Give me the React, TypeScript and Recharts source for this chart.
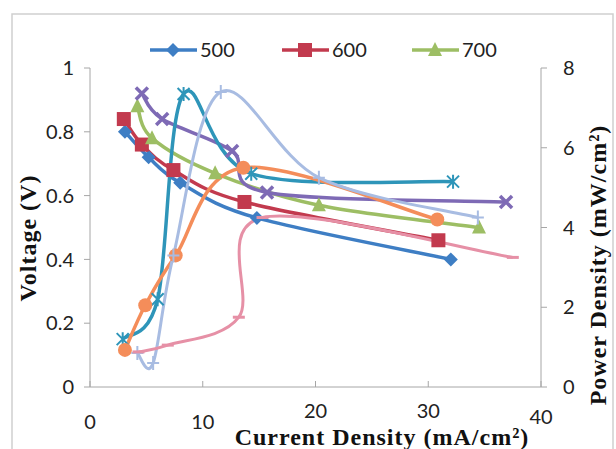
import { LineChart, Line, XAxis, YAxis } from "recharts";

// voltage curves (left axis)
const CURRENT_500 = [3.1, 5.2, 8.0, 14.8, 32.0];
const VOLTAGE_500 = [0.8, 0.72, 0.64, 0.53, 0.4];
const CURRENT_600 = [3.0, 4.6, 7.4, 13.7, 30.9];
const VOLTAGE_600 = [0.84, 0.76, 0.68, 0.58, 0.46];
const CURRENT_700 = [4.2, 5.5, 11.1, 20.3, 34.5];
const VOLTAGE_700 = [0.88, 0.78, 0.67, 0.57, 0.5];
const CURRENT_800 = [4.6, 6.4, 12.6, 15.7, 36.9];
const VOLTAGE_800 = [0.92, 0.84, 0.74, 0.61, 0.58];

// power density curves (right axis)
const CURRENT_P500 = [2.9, 6.0, 8.3, 14.3, 32.2];
const POWER_500 = [1.2, 2.2, 7.35, 5.35, 5.15];
const CURRENT_P600 = [3.1, 4.9, 7.6, 13.6, 30.8];
const POWER_600 = [0.93, 2.05, 3.3, 5.5, 4.2];
const CURRENT_P700 = [4.2, 5.6, 7.4, 11.6, 20.3, 34.4];
const POWER_700 = [0.85, 0.6, 3.3, 7.4, 5.25, 4.25];
const CURRENT_P800 = [4.3, 6.9, 13.2, 15.3, 37.5];
const POWER_800 = [0.88, 1.05, 1.75, 4.25, 3.25];

const X_TICKS = [0, 10, 20, 30, 40];
const V_TICKS = [0, 0.2, 0.4, 0.6, 0.8, 1];
const P_TICKS = [0, 2, 4, 6, 8];

const LEGEND = [
  { name: "500", color: "#3E7EC4", shape: "diamond", x: 150 },
  { name: "600", color: "#C23A4E", shape: "square", x: 282 },
  { name: "700", color: "#9DBE64", shape: "triangle", x: 412 },
];

const toPoints = (xs: number[], ys: number[]) => xs.map((x, i) => ({ x, y: ys[i] }));

// Excel-like smoothing: cubic bezier through every point (catmull-rom style)
function excelSmooth(context: any) {
  let pts: number[][] = [];
  return {
    areaStart() {},
    areaEnd() {},
    lineStart() {
      pts = [];
    },
    lineEnd() {
      const n = pts.length;
      if (!n) return;
      context.moveTo(pts[0][0], pts[0][1]);
      for (let i = 0; i < n - 1; i++) {
        const p0 = pts[Math.max(i - 1, 0)];
        const p1 = pts[i];
        const p2 = pts[i + 1];
        const p3 = pts[Math.min(i + 2, n - 1)];
        context.bezierCurveTo(
          p1[0] + (p2[0] - p0[0]) / 6,
          p1[1] + (p2[1] - p0[1]) / 6,
          p2[0] - (p3[0] - p1[0]) / 6,
          p2[1] - (p3[1] - p1[1]) / 6,
          p2[0],
          p2[1]
        );
      }
    },
    point(x: number, y: number) {
      pts.push([+x, +y]);
    },
  };
}

function Marker({ shape, cx, cy, color }: { shape: string; cx: number; cy: number; color: string }) {
  switch (shape) {
    case "diamond":
      return <polygon points={`${cx},${cy - 7} ${cx + 7},${cy} ${cx},${cy + 7} ${cx - 7},${cy}`} fill={color} />;
    case "square":
      return <rect x={cx - 7} y={cy - 7} width={14} height={14} fill={color} />;
    case "triangle":
      return <polygon points={`${cx},${cy - 8} ${cx + 7},${cy + 6} ${cx - 7},${cy + 6}`} fill={color} />;
    case "x":
      return (
        <path d={`M${cx - 6},${cy - 6}L${cx + 6},${cy + 6}M${cx + 6},${cy - 6}L${cx - 6},${cy + 6}`} stroke={color} strokeWidth={3.5} />
      );
    case "star":
      return (
        <path
          d={`M${cx - 6},${cy - 6}L${cx + 6},${cy + 6}M${cx + 6},${cy - 6}L${cx - 6},${cy + 6}M${cx},${cy - 7}L${cx},${cy + 7}`}
          stroke={color}
          strokeWidth={2}
        />
      );
    case "circle":
      return <circle cx={cx} cy={cy} r={7} fill={color} />;
    case "plus":
      return <path d={`M${cx - 6},${cy}L${cx + 6},${cy}M${cx},${cy - 7}L${cx},${cy + 7}`} stroke={color} strokeWidth={2} />;
    case "dash":
      return <path d={`M${cx - 6},${cy}L${cx + 6},${cy}`} stroke={color} strokeWidth={3} />;
    default:
      return null;
  }
}

const dotFor = (shape: string, color: string) => (props: any) => {
  const { cx, cy, index } = props;
  if (cx == null || cy == null) return <g key={`e-${index}`} />;
  return (
    <g key={`m-${index}`}>
      <Marker shape={shape} cx={cx} cy={cy} color={color} />
    </g>
  );
};

const SERIES = [
  { name: "500", axis: "v", data: toPoints(CURRENT_500, VOLTAGE_500), color: "#3E7EC4", shape: "diamond", w: 3.5 },
  { name: "600", axis: "v", data: toPoints(CURRENT_600, VOLTAGE_600), color: "#C23A4E", shape: "square", w: 3.5 },
  { name: "700", axis: "v", data: toPoints(CURRENT_700, VOLTAGE_700), color: "#9DBE64", shape: "triangle", w: 3.5 },
  { name: "800", axis: "v", data: toPoints(CURRENT_800, VOLTAGE_800), color: "#7E6AB5", shape: "x", w: 3.5 },
  { name: "P500", axis: "p", data: toPoints(CURRENT_P500, POWER_500), color: "#2E95B9", shape: "star", w: 3.5 },
  { name: "P600", axis: "p", data: toPoints(CURRENT_P600, POWER_600), color: "#F48D5A", shape: "circle", w: 3.5 },
  { name: "P700", axis: "p", data: toPoints(CURRENT_P700, POWER_700), color: "#A8BCE2", shape: "plus", w: 3 },
  { name: "P800", axis: "p", data: toPoints(CURRENT_P800, POWER_800), color: "#E690A6", shape: "dash", w: 3 },
];

const tickFont = { fontFamily: "Lato", fontSize: 20, fill: "#222" };
const titleFont = { fontFamily: "Liberation Serif", fontSize: 24, fontWeight: 700, fill: "#111", letterSpacing: 1 };

// the scanned x labels 20 and 30 sit a little higher than the others
const X_LABEL_Y: Record<number, number> = { 0: 429, 10: 429, 20: 418, 30: 418, 40: 424 };

const XTick = (props: any) => {
  const { x, payload } = props;
  return (
    <text x={x} y={X_LABEL_Y[payload.value] ?? 429} textAnchor="middle" style={tickFont}>
      {payload.value}
    </text>
  );
};

export default function App() {
  return (
    <div style={{ position: "absolute", left: 0, top: 0, width: 616, height: 449, overflow: "hidden", background: "#fff" }}>
      <LineChart width={616} height={449} margin={{ top: 68, right: 0, bottom: 0, left: 0 }}>
        <XAxis
          dataKey="x"
          type="number"
          domain={[0, 40]}
          ticks={X_TICKS}
          height={62}
          tick={<XTick />}
          tickSize={-6}
          tickMargin={30}
          stroke="#a6a6a6"
          allowDuplicatedCategory={false}
        />
        <YAxis
          yAxisId="v"
          domain={[0, 1]}
          ticks={V_TICKS}
          width={90}
          tick={tickFont}
          tickSize={6}
          tickMargin={10}
          stroke="#a6a6a6"
        />
        <YAxis
          yAxisId="p"
          orientation="right"
          domain={[0, 8]}
          ticks={P_TICKS}
          width={75}
          tick={tickFont}
          tickSize={6}
          tickMargin={16}
          stroke="#a6a6a6"
        />
        {SERIES.map((s) => (
          <Line
            key={s.name}
            yAxisId={s.axis}
            data={s.data}
            dataKey="y"
            name={s.name}
            type={excelSmooth as any}
            stroke={s.color}
            strokeWidth={s.w}
            dot={dotFor(s.shape, s.color)}
            activeDot={false}
            isAnimationActive={false}
          />
        ))}
      </LineChart>
      <svg width={616} height={449} style={{ position: "absolute", left: 0, top: 0, pointerEvents: "none" }}>
        <rect x={12} y={14} width={601} height={460} fill="none" stroke="#cfcfcf" strokeWidth={1.5} />
        {LEGEND.map((l) => (
          <g key={l.name}>
            <line x1={l.x} x2={l.x + 47} y1={50} y2={50} stroke={l.color} strokeWidth={3.5} />
            <Marker shape={l.shape} cx={l.x + 23} cy={50} color={l.color} />
            <text x={l.x + 50} y={57} style={tickFont}>
              {l.name}
            </text>
          </g>
        ))}
        <text transform="translate(36,238) rotate(-90)" textAnchor="middle" style={titleFont}>
          Voltage (V)
        </text>
        <text transform="translate(606,265) rotate(-90)" textAnchor="middle" style={titleFont}>
          Power Density  (mW/cm²)
        </text>
        <text x={382} y={445} textAnchor="middle" style={titleFont}>
          Current Density  (mA/cm²)
        </text>
      </svg>
    </div>
  );
}
